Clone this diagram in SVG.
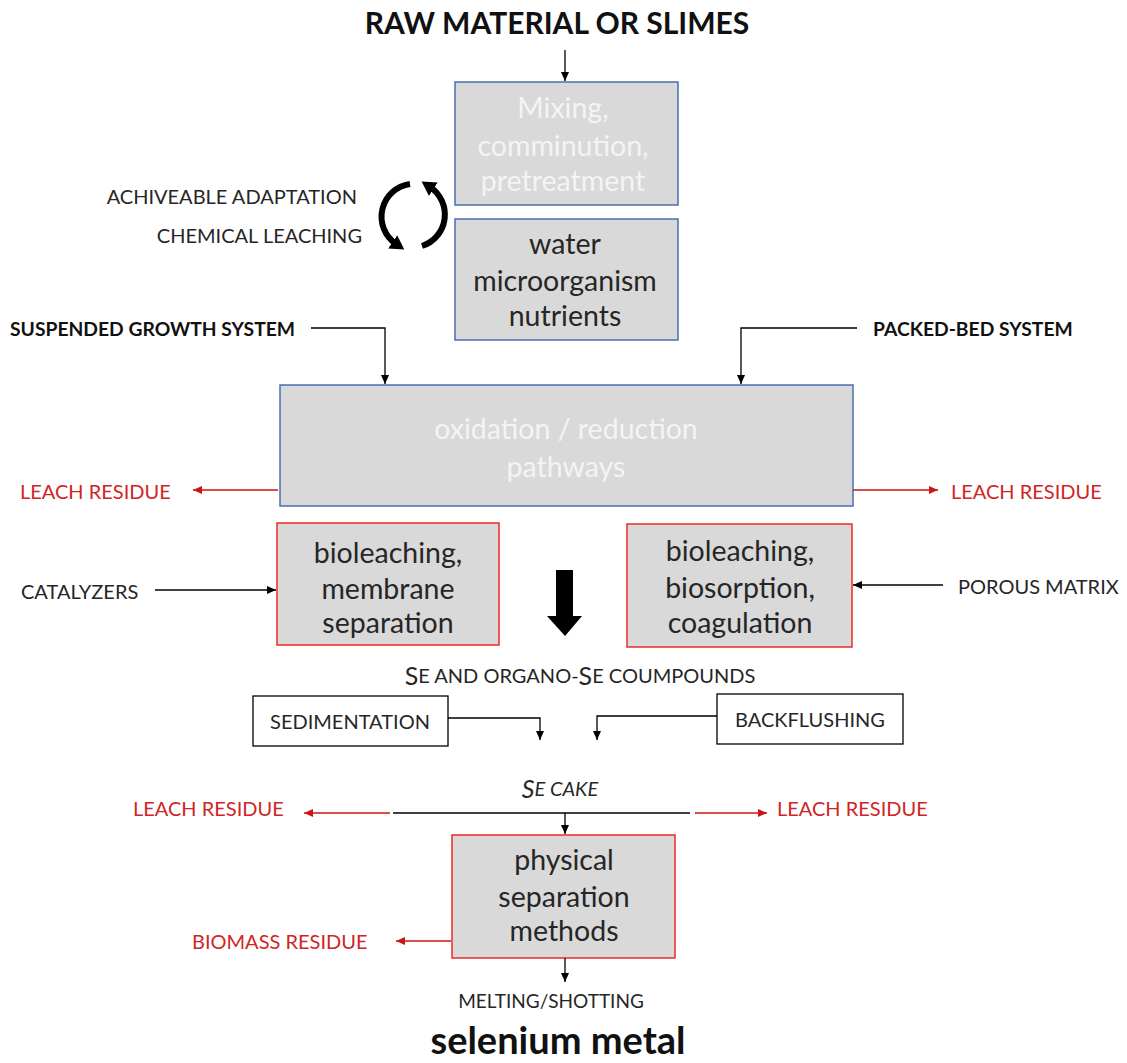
<svg xmlns="http://www.w3.org/2000/svg" width="1127" height="1063" viewBox="0 0 1127 1063">
<style>
text{font-family:Lato,"Liberation Sans",sans-serif;dominant-baseline:central}
.bx{fill:#d9d9d9;stroke:#4a6fb0;stroke-width:1.5}
.rb{fill:#d9d9d9;stroke:#ee2a2a;stroke-width:1.5}
.wb{fill:#fff;stroke:#000;stroke-width:1.3}
.wt{fill:#f4f4f4;font-size:28.5px;text-anchor:middle}
.dt{fill:#262626;font-size:28.5px;text-anchor:middle}
.lb{fill:#262626;font-size:20px}
.bd{fill:#111;font-size:19.3px;font-weight:bold}
.rd{fill:#d02525;font-size:20px}
.c{stroke:#000;stroke-width:1.3;fill:none}
.cr{stroke:#cc1515;stroke-width:1.5;fill:none}
</style>
<defs>
<marker id="ah" markerUnits="userSpaceOnUse" markerWidth="10" markerHeight="10" refX="9" refY="5" orient="auto"><path d="M0,1 L9,5 L0,9 z" fill="#000"/></marker>
<marker id="ahr" markerUnits="userSpaceOnUse" markerWidth="10" markerHeight="10" refX="9" refY="5" orient="auto"><path d="M0,1 L9,5 L0,9 z" fill="#cc1515"/></marker>
<marker id="ahc" markerUnits="userSpaceOnUse" markerWidth="16" markerHeight="16" refX="4" refY="8" orient="auto"><path d="M0,0 L14,8 L0,16 z" fill="#000"/></marker>
</defs>

<g id="title"><text x="557" y="22" text-anchor="middle" style="font-size:30px;font-weight:bold;fill:#111">RAW MATERIAL OR SLIMES</text></g>

<g id="n-mixing"><rect class="bx" x="455" y="82" width="223" height="123"/>
<text class="wt" x="563" y="107">Mixing,</text><text class="wt" x="563" y="145">comminution,</text><text class="wt" x="563" y="180">pretreatment</text></g>

<g id="n-water"><rect class="bx" x="455" y="219" width="223" height="121"/>
<text class="dt" x="565" y="243">water</text><text class="dt" x="565" y="280">microorganism</text><text class="dt" x="565" y="315">nutrients</text></g>

<g id="n-cycle">
<path d="M410,184 A33,33 0 0 0 396,244" fill="none" stroke="#000" stroke-width="6" marker-end="url(#ahc)"/>
<path d="M422,246 A33,33 0 0 0 430,187" fill="none" stroke="#000" stroke-width="6" marker-end="url(#ahc)"/>
<text class="lb" x="357" y="196" text-anchor="end">ACHIVEABLE ADAPTATION</text>
<text class="lb" x="362" y="235" text-anchor="end">CHEMICAL LEACHING</text>
</g>

<g id="l-suspended"><text class="bd" x="10" y="328">SUSPENDED GROWTH SYSTEM</text></g>
<g id="l-packed"><text class="bd" x="873" y="328">PACKED-BED SYSTEM</text></g>

<g id="n-oxidation"><rect class="bx" x="280" y="385" width="573" height="121"/>
<text class="wt" x="566" y="428">oxidation / reduction</text><text class="wt" x="566" y="466">pathways</text></g>

<g id="l-leach1"><text class="rd" x="20" y="491">LEACH RESIDUE</text></g>
<g id="l-leach2"><text class="rd" x="951" y="491">LEACH RESIDUE</text></g>

<g id="n-bio1"><rect class="rb" x="277" y="523" width="222" height="122"/>
<text class="dt" x="388" y="552">bioleaching,</text><text class="dt" x="388" y="588">membrane</text><text class="dt" x="388" y="622">separation</text></g>

<g id="n-bio2"><rect class="rb" x="627" y="524" width="225" height="123"/>
<text class="dt" x="740" y="550">bioleaching,</text><text class="dt" x="740" y="587">biosorption,</text><text class="dt" x="740" y="622">coagulation</text></g>

<g id="l-catalyzers"><text class="lb" x="21" y="591">CATALYZERS</text></g>
<g id="l-porous"><text class="lb" x="958" y="586">POROUS MATRIX</text></g>

<g id="l-compounds"><text class="lb" x="580" y="675" text-anchor="middle" style="font-size:20px"><tspan style="font-size:25px">S</tspan>E AND ORGANO-<tspan style="font-size:25px">S</tspan>E COUMPOUNDS</text></g>

<g id="n-sed"><rect class="wb" x="253" y="696" width="195" height="50"/><text class="lb" x="350" y="721" text-anchor="middle">SEDIMENTATION</text></g>
<g id="n-back"><rect class="wb" x="717" y="694" width="186" height="50"/><text class="lb" x="810" y="719" text-anchor="middle">BACKFLUSHING</text></g>

<g id="l-secake"><text class="lb" x="560" y="788" text-anchor="middle" style="font-size:20px;font-style:italic"><tspan style="font-size:25px">S</tspan>E CAKE</text></g>
<g id="l-leach3"><text class="rd" x="133" y="808">LEACH RESIDUE</text></g>
<g id="l-leach4"><text class="rd" x="777" y="808">LEACH RESIDUE</text></g>

<g id="n-physical"><rect class="rb" x="452" y="835" width="223" height="123"/>
<text class="dt" x="564" y="859">physical</text><text class="dt" x="564" y="896">separation</text><text class="dt" x="564" y="930">methods</text></g>

<g id="l-biomass"><text class="rd" x="192" y="941">BIOMASS RESIDUE</text></g>
<g id="l-melting"><text class="lb" x="551" y="1000" text-anchor="middle" style="font-size:19px">MELTING/SHOTTING</text></g>
<g id="l-selenium"><text x="558" y="1039" text-anchor="middle" style="font-size:38px;font-weight:bold;fill:#111">selenium metal</text></g>

<g id="connectors">
<path class="c" d="M565,50 V81" marker-end="url(#ah)"/>
<path class="c" d="M311,328 H385 V384" marker-end="url(#ah)"/>
<path class="c" d="M857,328 H741 V384" marker-end="url(#ah)"/>
<path class="cr" d="M278,490 H193" marker-end="url(#ahr)"/>
<path class="cr" d="M853,490 H938" marker-end="url(#ahr)"/>
<path class="c" d="M155,590 H276" marker-end="url(#ah)"/>
<path class="c" d="M943,585 H853" marker-end="url(#ah)"/>
<polygon points="556,570 573,570 573,616 582,616 565,636 547,616 556,616" fill="#000"/>
<path class="c" d="M448,718 H540 V740" marker-end="url(#ah)"/>
<path class="c" d="M717,716 H597 V740" marker-end="url(#ah)"/>
<path class="c" d="M393,813 H690"/>
<path class="c" d="M565,813 V834" marker-end="url(#ah)"/>
<path class="cr" d="M390,813 H304" marker-end="url(#ahr)"/>
<path class="cr" d="M695,813 H767" marker-end="url(#ahr)"/>
<path class="cr" d="M451,941 H396" marker-end="url(#ahr)"/>
<path class="c" d="M565,958 V982" marker-end="url(#ah)"/>
</g>
</svg>
